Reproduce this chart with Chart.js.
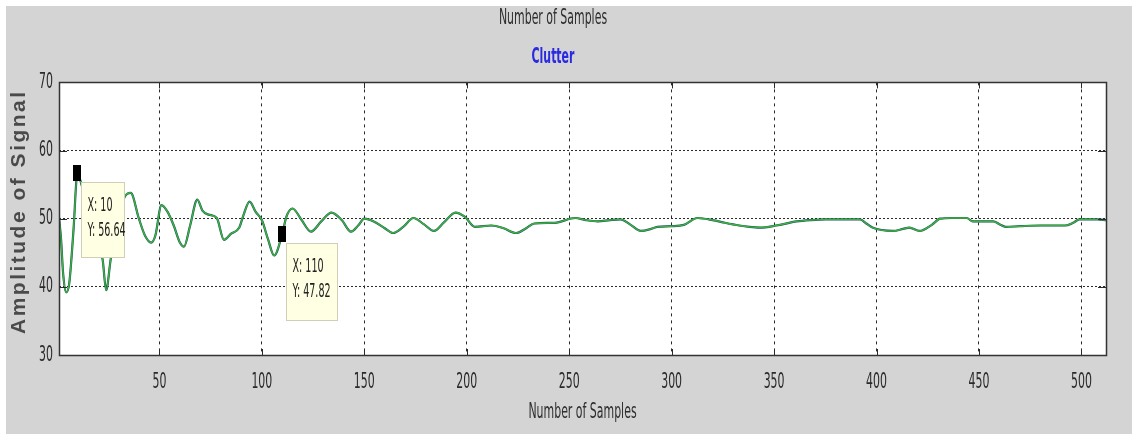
<!DOCTYPE html>
<html>
<head>
<meta charset="utf-8">
<script src="https://cdn.jsdelivr.net/npm/chart.js@4"></script>
<style>
  html, body { margin: 0; padding: 0; background: #d4d4d4; }
  #wrap { width: 1132px; height: 434px; }
</style>
</head>
<body>
<div id="wrap"><canvas id="c" width="1132" height="434"></canvas></div>
<script>
// ---- data ----
const sampleX = [1, 2, 3, 4.5, 6, 8, 10, 12, 16, 20, 22.3, 24, 26.2, 29, 33, 36, 40, 43, 46, 48, 51, 54, 57, 60, 62, 65, 68.5, 71, 74, 78, 81.5, 85, 89, 91, 94, 97, 100, 103, 106, 110, 112, 115, 119, 124, 129, 134, 139, 143.5, 147, 150, 154.6, 160, 164, 169, 174, 179, 184, 189, 194.5, 199, 204, 212, 218, 224, 229, 233, 243, 253, 258, 264, 270, 275, 280, 285, 290, 293, 300, 306, 312.6, 320, 326, 333, 338, 343, 351, 361, 368, 375, 385, 392, 395, 398, 408, 413, 416, 421, 427, 431, 437, 444, 447, 457, 460, 463, 470, 480, 492, 496, 499, 504, 508, 512];
const amplitude = [50.2, 47, 42, 39.2, 40.5, 48, 56.64, 55, 50, 46, 44, 39.5, 44, 49, 53.2, 53.8, 50, 47.5, 46.5, 47.5, 52, 51, 49, 46.5, 45.9, 49, 52.8, 51.2, 50.6, 50.1, 46.9, 47.8, 48.7, 50.5, 52.5, 51, 49.8, 47, 44.6, 47.82, 50.3, 51.5, 50, 48.1, 49.6, 50.9, 49.8, 48.1, 49, 50, 49.6, 48.6, 47.9, 48.8, 50.1, 49.2, 48.2, 49.5, 50.9, 50.3, 48.8, 49.0, 48.6, 47.9, 48.6, 49.3, 49.4, 50.1, 49.8, 49.6, 49.8, 49.9, 49.1, 48.2, 48.5, 48.8, 48.9, 49.1, 50.1, 49.8, 49.4, 49.0, 48.8, 48.7, 49.0, 49.6, 49.8, 49.9, 49.9, 49.9, 49.3, 48.7, 48.2, 48.5, 48.7, 48.2, 49.1, 50.0, 50.1, 50.1, 49.6, 49.6, 49.2, 48.8, 48.9, 49.0, 49.0, 49.4, 49.9, 49.9, 49.9, 49.8];
const xTickValues = [50, 100, 150, 200, 250, 300, 350, 400, 450, 500];
const yTickValues = [30, 40, 50, 60, 70];
const tipX = [10, 110];
const tipY = [56.64, 47.82];
const titleText = 'Number of Samples';
const subtitleText = 'Clutter';
const xTitleText = 'Number of Samples';
const yTitleText = 'Amplitude of Signal';

const points = sampleX.map((x, i) => ({ x: x, y: amplitude[i] }));
const NARROW = "'Liberation Sans Narrow', 'DejaVu Sans Condensed', 'Liberation Sans', Arial, sans-serif";
const WIDE = "'Liberation Sans', Arial, sans-serif";

// the reference text is tall and narrow: stretch upright text about its anchor
const textStretchPlugin = {
  id: 'textStretch',
  beforeInit(chart) {
    const ctx = chart.ctx;
    const orig = ctx.fillText;
    ctx.fillText = function (t, x, y, mw) {
      const m = this.getTransform();
      if (Math.abs(m.b) > 1e-6 || Math.abs(m.c) > 1e-6) {
        return mw === undefined ? orig.call(this, t, x, y) : orig.call(this, t, x, y, mw);
      }
      this.save();
      this.translate(x, y);
      this.scale(0.76, 1.35);
      if (mw === undefined) orig.call(this, t, 0, 0); else orig.call(this, t, 0, 0, mw / 0.76);
      this.restore();
    };
  }
};

const bgPlugin = {
  id: 'bg',
  beforeDraw(chart) {
    const ctx = chart.ctx;
    ctx.save();
    ctx.fillStyle = '#d4d4d4';
    ctx.fillRect(0, 0, chart.width, chart.height);
    ctx.fillStyle = '#ffffff';
    ctx.fillRect(0, 0, chart.width, 6);
    ctx.fillRect(0, 0, 6, chart.height);
    const a = chart.chartArea;
    ctx.fillRect(a.left, a.top, a.right - a.left, a.bottom - a.top);
    ctx.restore();
  }
};

const boxPlugin = {
  id: 'box',
  afterDatasetsDraw(chart) {
    const ctx = chart.ctx, a = chart.chartArea;
    const xs = chart.scales.x, ys = chart.scales.y;
    ctx.save();
    ctx.strokeStyle = '#2a2a2a';
    ctx.lineWidth = 1;
    ctx.beginPath();
    xTickValues.forEach(v => {
      const p = Math.round(xs.getPixelForValue(v)) + 0.5;
      ctx.moveTo(p, a.bottom); ctx.lineTo(p, a.bottom - 6);
      ctx.moveTo(p, a.top); ctx.lineTo(p, a.top + 6);
    });
    yTickValues.forEach(v => {
      const p = Math.round(ys.getPixelForValue(v)) + 0.5;
      ctx.moveTo(a.left, p); ctx.lineTo(a.left + 8, p);
      ctx.moveTo(a.right, p); ctx.lineTo(a.right - 8, p);
    });
    ctx.stroke();
    ctx.lineWidth = 1.5;
    ctx.strokeStyle = '#333';
    ctx.strokeRect(Math.round(a.left) + 0.5, Math.round(a.top) + 0.5, Math.round(a.right - a.left), Math.round(a.bottom - a.top));
    ctx.restore();
  }
};

const yTitlePlugin = {
  id: 'ytitle',
  afterDraw(chart) {
    const ctx = chart.ctx, a = chart.chartArea;
    ctx.save();
    ctx.translate(19, (a.top + a.bottom) / 2 - 7);
    ctx.rotate(-Math.PI / 2);
    ctx.font = 'bold 21px ' + WIDE;
    if ('letterSpacing' in ctx) ctx.letterSpacing = '2.5px';
    ctx.fillStyle = '#4a4a4a';
    ctx.textAlign = 'center';
    ctx.textBaseline = 'middle';
    ctx.fillText(yTitleText, 0, 0);
    ctx.restore();
  }
};

const tipPlugin = {
  id: 'tips',
  afterDraw(chart) {
    const ctx = chart.ctx;
    const xs = chart.scales.x, ys = chart.scales.y;
    const sizes = [[43, 75], [51, 77]];
    ctx.save();
    tipX.forEach((xv, i) => {
      const px = xs.getPixelForValue(xv);
      const py = ys.getPixelForValue(tipY[i]);
      const bx = Math.round(px + 4) + 0.5, by = Math.round(py + 9) + 0.5;
      const w = sizes[i][0], h = sizes[i][1];
      ctx.fillStyle = '#ffffe4';
      ctx.strokeStyle = '#cfcfb8';
      ctx.lineWidth = 1;
      ctx.fillRect(bx, by, w, h);
      ctx.strokeRect(bx, by, w, h);
      ctx.fillStyle = '#000';
      ctx.fillRect(Math.round(px - 4), Math.round(py - 8), 8, 16);
      ctx.fillStyle = '#222';
      ctx.font = '14px ' + NARROW;
      ctx.textBaseline = 'middle';
      ctx.textAlign = 'left';
      const lines = ['X: ' + xv, 'Y: ' + tipY[i].toFixed(2)];
      ctx.fillText(lines[0], bx + 6, by + 24);
      ctx.fillText(lines[1], bx + 6, by + 49);
    });
    ctx.restore();
  }
};

new Chart(document.getElementById('c'), {
  type: 'line',
  data: {
    datasets: [
      {
        label: 'Filtered',
        data: points,
        borderColor: '#3cb43c',
        borderWidth: 1.4,
        pointRadius: 0,
        cubicInterpolationMode: 'monotone',
        order: 0
      },
      {
        label: 'Clutter',
        data: points,
        borderColor: '#1e4f60',
        borderWidth: 2.2,
        pointRadius: 0,
        cubicInterpolationMode: 'monotone',
        order: 1
      }
    ]
  },
  options: {
    responsive: false,
    animation: false,
    devicePixelRatio: 1,
    layout: { padding: { left: 0, right: 26, top: 0, bottom: 0 } },
    plugins: {
      legend: { display: false },
      tooltip: { enabled: false },
      title: {
        display: true,
        text: titleText,
        color: '#2e2e2e',
        font: { family: NARROW, size: 16, weight: 'normal', lineHeight: 1.2 },
        padding: { top: 9, bottom: 10 }
      },
      subtitle: {
        display: true,
        text: subtitleText,
        color: '#2a2ae0',
        font: { family: NARROW, size: 16, weight: 'bold', lineHeight: 1.2 },
        padding: { top: 10, bottom: 15 }
      }
    },
    scales: {
      x: {
        type: 'linear',
        position: 'bottom',
        min: 1,
        max: 512,
        afterBuildTicks: s => { s.ticks = xTickValues.map(v => ({ value: v })); },
        afterFit: s => { s.height = 79; },
        border: { display: false, dash: [3, 4] },
        grid: { color: '#2a2a2a', lineWidth: 1, drawTicks: false },
        ticks: {
          color: '#2a2a2a',
          padding: 18,
          maxRotation: 0,
          autoSkip: false,
          font: { family: NARROW, size: 16 },
          callback: v => String(v)
        },
        title: {
          display: true,
          text: xTitleText,
          color: '#2e2e2e',
          font: { family: NARROW, size: 16, lineHeight: 1.2 },
          padding: { top: 0, bottom: 12 }
        }
      },
      y: {
        type: 'linear',
        min: 30,
        max: 70,
        afterBuildTicks: s => { s.ticks = yTickValues.map(v => ({ value: v })); },
        afterFit: s => { s.width = 59; },
        border: { display: false, dash: [2, 2] },
        grid: { color: '#2a2a2a', lineWidth: 1, drawTicks: false },
        ticks: {
          color: '#2a2a2a',
          padding: 6,
          autoSkip: false,
          font: { family: NARROW, size: 16 },
          callback: v => String(v)
        },
        title: { display: false, text: yTitleText }
      }
    }
  },
  plugins: [textStretchPlugin, bgPlugin, boxPlugin, yTitlePlugin, tipPlugin]
});
</script>
</body>
</html>
